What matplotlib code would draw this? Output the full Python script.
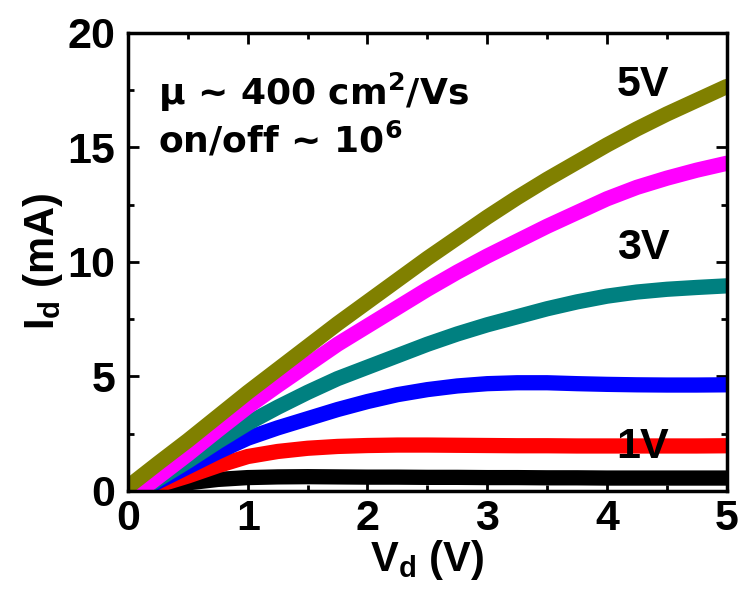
import matplotlib.pyplot as plt
import numpy as np

plt.rcParams['font.family'] = 'Liberation Sans'
plt.rcParams['font.weight'] = 'bold'
plt.rcParams['mathtext.fontset'] = 'custom'
plt.rcParams['mathtext.rm'] = 'Liberation Sans:bold'
plt.rcParams['mathtext.it'] = 'Liberation Sans:bold'
plt.rcParams['mathtext.bf'] = 'Liberation Sans:bold'

# Output curves I_d (mA) vs V_d (V), one per gate voltage
vd = [0.1, 0.25, 0.5, 0.75, 1.0, 1.25, 1.5, 1.75, 2.0, 2.25, 2.5,
      2.75, 3.0, 3.25, 3.5, 3.75, 4.0, 4.25, 4.5, 4.75, 5.0]
vd_5v = [0.03] + vd[1:]

id_0v = [0.0, 0.15, 0.35, 0.5, 0.58, 0.61, 0.62, 0.61, 0.6, 0.6, 0.59,
         0.59, 0.58, 0.58, 0.57, 0.57, 0.56, 0.56, 0.56, 0.56, 0.56]
id_1v = [0.0, 0.25, 0.65, 1.1, 1.5, 1.72, 1.86, 1.94, 1.98, 2.0, 2.0,
         1.99, 1.98, 1.97, 1.97, 1.96, 1.96, 1.96, 1.96, 1.96, 1.97]
id_2v = [0.0, 0.4, 1.05, 1.7, 2.3, 2.75, 3.15, 3.55, 3.9, 4.2, 4.42,
         4.58, 4.68, 4.72, 4.72, 4.68, 4.65, 4.63, 4.62, 4.62, 4.63]
id_3v = [0.0, 0.5, 1.3, 2.15, 2.95, 3.65, 4.3, 4.9, 5.4, 5.9, 6.4,
         6.85, 7.25, 7.6, 7.95, 8.25, 8.5, 8.68, 8.8, 8.88, 8.95]
id_4v = [0.0, 0.6, 1.6, 2.65, 3.67, 4.6, 5.5, 6.4, 7.2, 8.0, 8.8,
         9.55, 10.25, 10.9, 11.55, 12.15, 12.75, 13.25, 13.65, 14.0, 14.3]
id_5v = [0.3, 1.2, 2.2, 3.25, 4.3, 5.3, 6.3, 7.3, 8.25, 9.2, 10.15,
         11.05, 11.95, 12.8, 13.6, 14.35, 15.1, 15.8, 16.45, 17.05, 17.65]

series = [
    (vd, id_0v, 'black'),
    (vd, id_1v, '#FF0000'),
    (vd, id_2v, '#0000FF'),
    (vd, id_3v, '#008080'),
    (vd, id_4v, '#FF00FF'),
    (vd_5v, id_5v, '#808000'),
]

gate_labels = ['5V', '3V', '1V']
gate_label_pos = [(4.3, 17.7), (4.3, 10.6), (4.3, 1.9)]

fig = plt.figure(figsize=(7.4, 5.95), dpi=100)
ax = fig.add_axes([0.173, 0.175, 0.809, 0.77])

for x, y, c in series:
    ax.plot(x, y, color=c, lw=11, solid_capstyle='round', solid_joinstyle='round')

for lab, (x, y) in zip(gate_labels, gate_label_pos):
    ax.text(x, y, lab, fontsize=31, fontweight='bold', ha='center', va='center')

# annotation text is set in a wider face than the tick labels
ax.text(0.25, 17.4, 'μ ~ 400 cm$^2$/Vs', fontsize=26, fontweight='bold',
        family='DejaVu Sans', va='center', ha='left', math_fontfamily='dejavusans')
ax.text(0.25, 15.3, 'on/off ~ 10$^6$', fontsize=26, fontweight='bold',
        family='DejaVu Sans', va='center', ha='left', math_fontfamily='dejavusans')

ax.set_xlim(0, 5)
ax.set_ylim(0, 20)
ax.set_xticks(np.arange(0, 6, 1))
ax.set_yticks(np.arange(0, 25, 5))
ax.set_xticks(np.arange(0, 5.01, 0.5), minor=True)
ax.set_yticks(np.arange(0, 20.01, 2.5), minor=True)
ax.tick_params(which='both', direction='in', top=True, right=True, width=2)
ax.tick_params(which='major', length=8, labelsize=31)
ax.tick_params(axis='x', which='major', pad=6)
ax.tick_params(axis='y', which='major', pad=9)
ax.tick_params(which='minor', length=4)
for lbl in ax.get_xticklabels() + ax.get_yticklabels():
    lbl.set_fontweight('bold')
for sp in ax.spines.values():
    sp.set_linewidth(2.5)

ax.set_xlabel('V$_\\mathrm{d}$ (V)', fontsize=30, fontweight='bold', labelpad=-1)
ax.set_ylabel('I$_\\mathrm{d}$ (mA)', fontsize=30, fontweight='bold', labelpad=2)

plt.savefig('out.png', dpi=100)
plt.close()
